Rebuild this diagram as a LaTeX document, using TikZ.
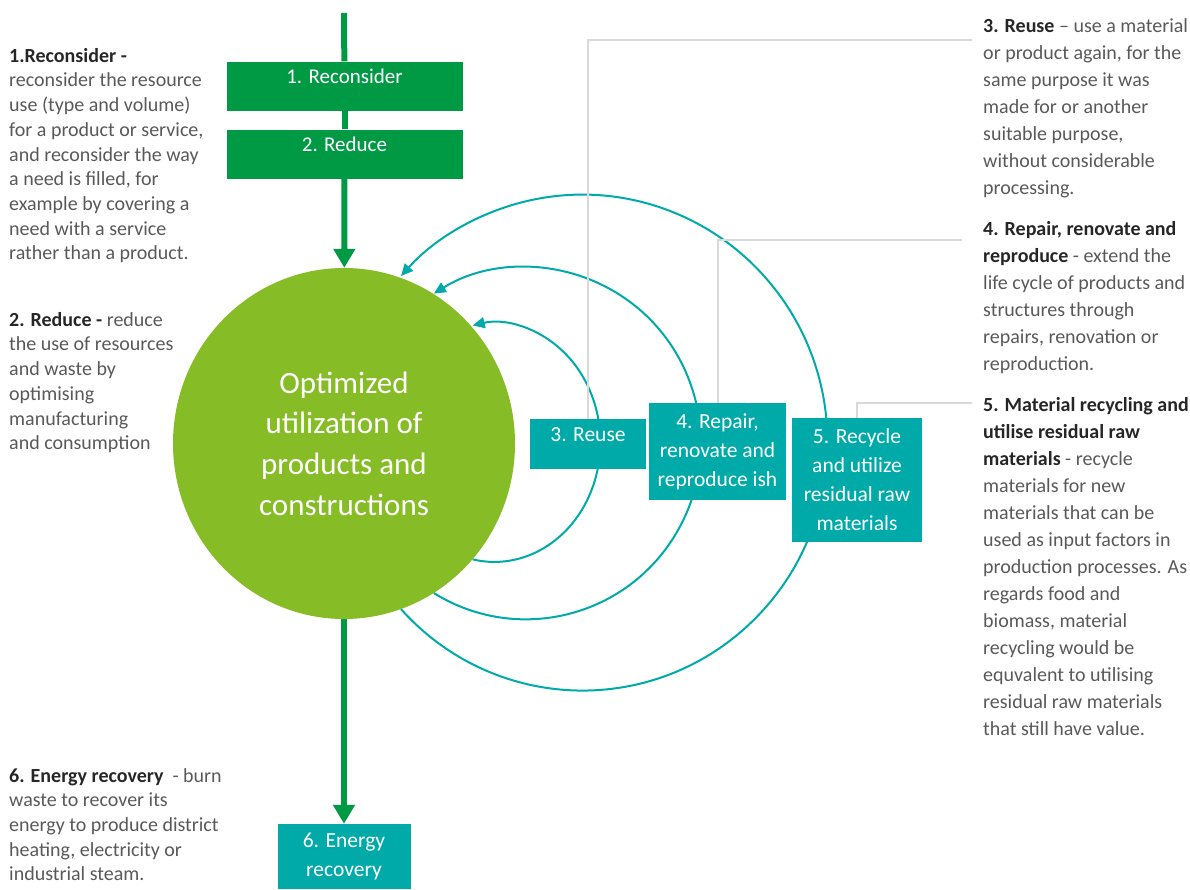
\documentclass[tikz,border=0pt]{standalone}
\usepackage{fontspec}
\setmainfont{Carlito}
\usetikzlibrary{shapes.geometric,arrows.meta}
\definecolor{leafgreen}{RGB}{134,188,37}
\definecolor{darkgreen}{RGB}{0,154,68}
\definecolor{tealbox}{RGB}{0,170,168}
\definecolor{greytext}{RGB}{89,89,89}
\definecolor{darktext}{RGB}{38,38,38}
\definecolor{leader}{RGB}{217,217,217}
\newcommand{\head}[1]{\textbf{\color{darktext}#1}}
\begin{document}
\begin{tikzpicture}[x=1pt,y=-1pt]
			\tikzstyle{gbox}=[fill=darkgreen, text=white, inner sep=0pt, minimum width=236pt, minimum height=49pt, text height=14pt, text depth=20pt, font=\fontsize{21}{29}\selectfont]
			\tikzstyle{tbox}=[fill=tealbox, text=white, inner sep=0pt, align=center, font=\fontsize{21.5}{29}\selectfont]
			\tikzstyle{note}=[anchor=north west, inner sep=0pt, align=left, text=greytext, font=\fontsize{20}{24.7}\selectfont]
			\tikzstyle{rnote}=[note, font=\fontsize{20}{27}\selectfont]
			\tikzstyle{flow}=[darkgreen, line width=6pt]
			\tikzstyle{back}=[tealbox, line width=2pt, -{Triangle[length=12pt,width=11pt]}]
			\tikzstyle{lead}=[leader, line width=2pt]
			\useasboundingbox (0,0) rectangle (1190,889);
			% main flow down the middle
			\coordinate (src) at (344,13);
			\node[gbox] (r1) at (344.5,86) {1. Reconsider};
			\node[gbox] (r2) at (344.5,154) {2. Reduce};
			\node[ellipse, fill=leafgreen, inner sep=0pt, minimum width=342pt, minimum height=351pt,
			      text=white, align=center, font=\fontsize{31}{40.7}\selectfont]
			      (hub) at (344,443.5) {Optimized\\utilization of\\products and\\constructions};
			\node[tbox, minimum width=133pt, minimum height=65pt] (b6) at (344,856.5) {6. Energy\\recovery};
			\draw[flow] (src) -- (r1);
			\draw[flow] (r1) -- (r2);
			\draw[flow, -{Triangle[length=19pt,width=21pt]}] (r2) -- (hub);
			\draw[flow, -{Triangle[length=19pt,width=21pt]}] (hub) -- (b6);
			% loops back into the hub
			\draw[back] (hub.-42.5) arc[start angle=101.8, end angle=-101.8, x radius=106, y radius=119.5];
			\draw[back] (hub.-59) arc[start angle=121.7, end angle=-121.7, x radius=175, y radius=176];
			\draw[back] (hub.-71.6) arc[start angle=137.8, end angle=-137.8, x radius=245, y radius=248];
			\node[tbox, minimum width=116pt, minimum height=50pt, text height=14pt, text depth=20pt] (b3) at (588,444) {3. Reuse};
			\node[tbox, minimum width=137pt, minimum height=97pt] (b4) at (717.5,451.5) {4. Repair,\\renovate and\\reproduce ish};
			\node[tbox, minimum width=130pt, minimum height=124pt] (b5) at (857,480) {5. Recycle\\and utilize\\residual raw\\materials};
			% leader lines to the notes
			\coordinate (l3) at (972,40);
			\coordinate (l4) at (962,240);
			\coordinate (l5) at (972,403);
			\draw[lead] (b3.north) |- (l3);
			\draw[lead] (b4.north) |- (l4);
			\draw[lead] (b5.north) |- (l5);
			% notes
			\node[note] (t1) at (9,48) {\head{1.Reconsider -}\\reconsider the resource\\use (type and volume)\\for a product or service,\\and reconsider the way\\a need is filled, for\\example by covering a\\need with a service\\rather than a product.};
			\node[note] (t2) at (9,312) {\head{2. Reduce -} reduce\\the use of resources\\and waste by\\optimising\\manufacturing\\and consumption};
			\node[note] (t6) at (9,768) {\head{6. Energy recovery}~ - burn\\waste to recover its\\energy to produce district\\heating, electricity or\\industrial steam.};
			\node[rnote] (t3) at (983,18) {\head{3. Reuse} -- use a material\\or product again, for the\\same purpose it was\\made for or another\\suitable purpose,\\without considerable\\processing.};
			\node[rnote] (t4) at (983,221) {\head{4. Repair, renovate and}\\\head{reproduce} - extend the\\life cycle of products and\\structures through\\repairs, renovation or\\reproduction.};
			\node[rnote] (t5) at (983,397) {\head{5. Material recycling and}\\\head{utilise residual raw}\\\head{materials} - recycle\\materials for new\\materials that can be\\used as input factors in\\production processes. As\\regards food and\\biomass, material\\recycling would be\\equvalent to utilising\\residual raw materials\\that still have value.};
		\end{tikzpicture}
\end{document}
